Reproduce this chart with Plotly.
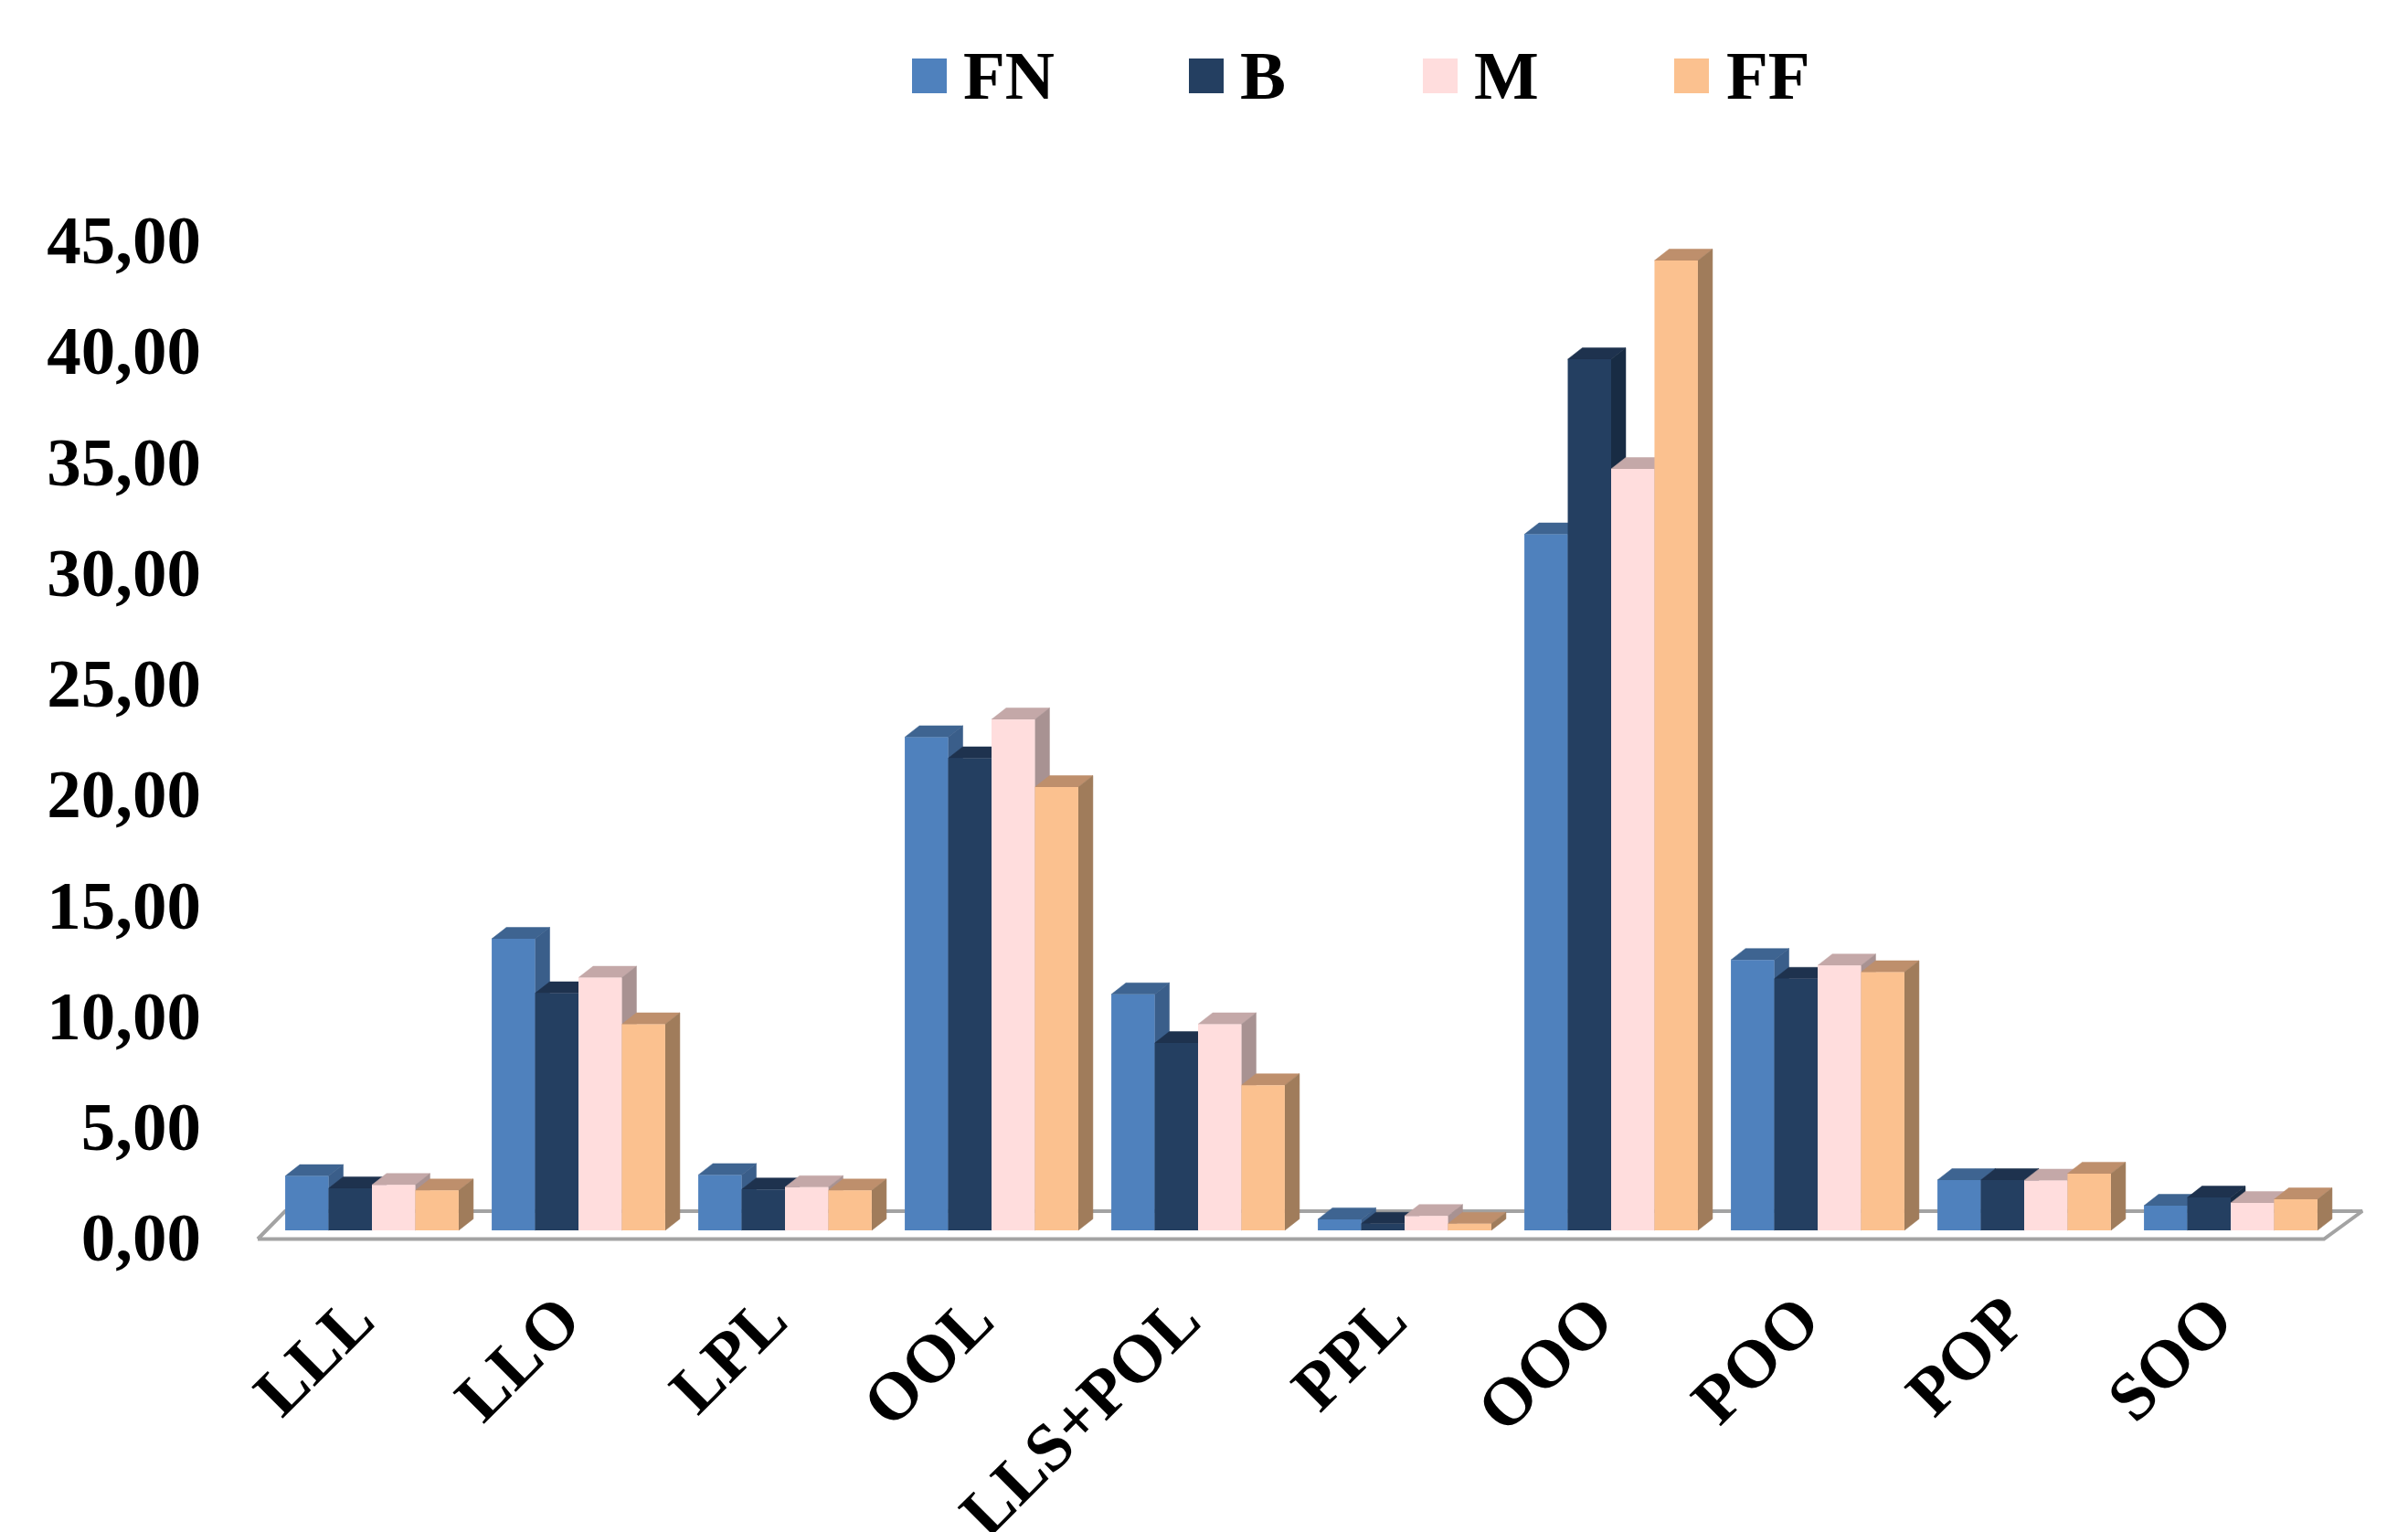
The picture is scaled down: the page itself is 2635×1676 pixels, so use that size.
import plotly.graph_objects as go

categories = ["LLL", "LLO", "LPL", "OOL", "LLS+POL", "PPL", "OOO", "POO", "POP", "SOO"]
series_names = ["FN", "B", "M", "FF"]
FN = [2.45, 13.15, 2.5, 22.25, 10.65, 0.5, 31.4, 12.2, 2.27, 1.11]
B = [1.9, 10.7, 1.85, 21.3, 8.45, 0.3, 39.3, 11.35, 2.27, 1.48]
M = [2.05, 11.4, 1.95, 23.05, 9.3, 0.65, 34.35, 11.95, 2.25, 1.24]
FF = [1.8, 9.3, 1.8, 20.0, 6.55, 0.3, 43.75, 11.65, 2.56, 1.4]
tick_values = [0, 5, 10, 15, 20, 25, 30, 35, 40, 45]
tick_labels = ["0,00", "5,00", "10,00", "15,00", "20,00", "25,00", "30,00", "35,00", "40,00", "45,00"]

front_colors = ["#4F81BD", "#243F61", "#FFDDDD", "#FBC18F"]
top_colors = ["#3E6491", "#1E324E", "#C4A8A8", "#BE8F6C"]
side_colors = ["#3A5E8A", "#182C44", "#A89292", "#A07C5B"]

W, H = 2635, 1676
L, R, T, BOT = 226, 2620, 200, 1384
PX_PER_GROUP = 226.0
PX_PER_UNIT = 24.25
X0_PX, Y0_PX = 407.0, 1346.0
FONT = "Liberation Serif"

xr = [(L - X0_PX) / PX_PER_GROUP, (R - X0_PX) / PX_PER_GROUP]
yr = [(Y0_PX - BOT) / PX_PER_UNIT, (Y0_PX - T) / PX_PER_UNIT]
bar_gap = 0.16
bar_w = (1 - bar_gap) / 4
dx = 16 / PX_PER_GROUP
dy = 12.5 / PX_PER_UNIT
label_shift = 7 / PX_PER_UNIT
x_label_shift = 20 / PX_PER_GROUP

fig = go.Figure()

def hide_hover(**k):
    return dict(mode="lines", hoverinfo="skip", showlegend=False, **k)

# floor of the 3D box
fx = [(282 - X0_PX) / PX_PER_GROUP, (2543 - X0_PX) / PX_PER_GROUP,
      (2585 - X0_PX) / PX_PER_GROUP, (312 - X0_PX) / PX_PER_GROUP]
fy = [(Y0_PX - 1355.5) / PX_PER_UNIT, (Y0_PX - 1355.5) / PX_PER_UNIT,
      (Y0_PX - 1325) / PX_PER_UNIT, (Y0_PX - 1325) / PX_PER_UNIT]
fig.add_trace(go.Scatter(x=fx + fx[:1], y=fy + fy[:1], fill="toself", fillcolor="#FFFFFF",
                         line=dict(color="#A3A3A3", width=4), **hide_hover()))

all_series = [FN, B, M, FF]
for s, values in enumerate(all_series):
    for i, v in enumerate(values):
        left = i - 2 * bar_w + s * bar_w
        right = left + bar_w
        fig.add_trace(go.Scatter(
            x=[left, right, right + dx, left + dx, left],
            y=[v, v, v + dy, v + dy, v],
            fill="toself", fillcolor=top_colors[s],
            line=dict(color=top_colors[s], width=0.5), **hide_hover()))
        fig.add_trace(go.Scatter(
            x=[right, right + dx, right + dx, right, right],
            y=[0, dy, v + dy, v, 0],
            fill="toself", fillcolor=side_colors[s],
            line=dict(color=side_colors[s], width=0.5), **hide_hover()))

for s, values in enumerate(all_series):
    fig.add_trace(go.Bar(x=categories, y=values, name=series_names[s], xaxis="x2", yaxis="y2",
                         marker=dict(color=front_colors[s], line=dict(width=0)), showlegend=False))

legend_swatch_left = [998, 1301, 1557, 1832]
legend_text_left = [1052, 1355, 1611, 1887]
shapes, annotations = [], []
for s, name in enumerate(series_names):
    shapes.append(dict(type="rect", xref="paper", yref="paper",
                       x0=(legend_swatch_left[s] - L) / (R - L), x1=(legend_swatch_left[s] + 38 - L) / (R - L),
                       y0=(BOT - 102) / (BOT - T), y1=(BOT - 64) / (BOT - T),
                       fillcolor=front_colors[s], line=dict(width=0)))
    annotations.append(dict(xref="paper", yref="paper", showarrow=False, text=name,
                            x=(legend_text_left[s] - L) / (R - L), y=(BOT - 82) / (BOT - T),
                            xanchor="left", yanchor="middle",
                            font=dict(family=FONT, size=75, color="#000000", weight="bold")))

fig.update_layout(
    width=W, height=H, autosize=False,
    margin=dict(l=L, r=W - R, t=T, b=H - BOT),
    paper_bgcolor="#FFFFFF", plot_bgcolor="rgba(0,0,0,0)",
    showlegend=False, barmode="group", bargap=bar_gap, bargroupgap=0,
    shapes=shapes, annotations=annotations,
    xaxis=dict(range=xr, showgrid=False, zeroline=False, showline=False, ticks="",
               tickmode="array", tickvals=[i - x_label_shift for i in range(len(categories))],
               ticktext=categories, tickangle=-45,
               tickfont=dict(family=FONT, size=74, color="#000000", weight="bold"),
               automargin=False, fixedrange=True),
    yaxis=dict(range=yr, showgrid=False, zeroline=False, showline=False, ticks="",
               tickmode="array", tickvals=[v - label_shift for v in tick_values], ticktext=tick_labels,
               ticklabelstandoff=5,
               tickfont=dict(family=FONT, size=75, color="#000000", weight="bold"),
               automargin=False, fixedrange=True),
    xaxis2=dict(overlaying="x", anchor="y2", side="bottom", type="category", categoryorder="array",
                categoryarray=categories, range=xr, visible=False, fixedrange=True),
    yaxis2=dict(overlaying="y", anchor="x2", range=yr, visible=False, fixedrange=True),
)

fig.write_html("out.html", config={"displayModeBar": False},
               post_script="document.body.style.margin='0';document.documentElement.style.overflow='hidden';")
